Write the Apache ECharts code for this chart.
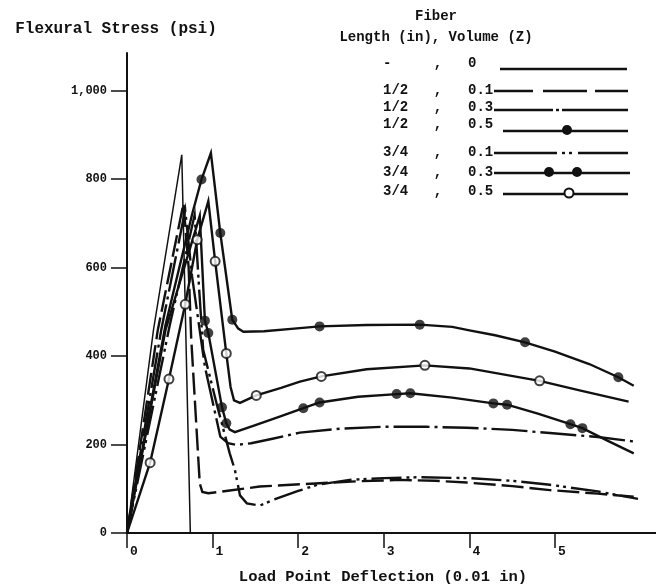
<!DOCTYPE html>
<html><head><meta charset="utf-8">
<script src="https://cdn.jsdelivr.net/npm/echarts@6/dist/echarts.min.js"></script>
<style>html,body{margin:0;padding:0;background:#fff}#c{width:656px;height:586px}</style>
</head><body><div id="c"></div>
<script>
// ---- tick values ----
const xTicks = [0, 1, 2, 3, 4, 5];
const yTicks = [0, 200, 400, 600, 800, 1000];

// ---- series: [deflection (0.01 in), flexural stress (psi)] ----
const plainCurve = [[0,0],[0.31,460],[0.64,855],[0.74,0]];
const half01 = [[0,0],[0.36,459],[0.66,745],[0.72,600],[0.75,440],[0.85,112],[0.88,93],[0.95,90],[1.2,96],[1.55,105],[2.2,112],[2.7,117],[3.19,120],[3.6,118],[3.97,114],[4.5,106],[4.94,97],[5.5,89],[5.92,82]];
const half03 = [[0,0],[0.40,459],[0.68,730],[0.76,580],[0.91,376],[1.09,218],[1.18,203],[1.28,199],[1.45,203],[1.7,213],[2.02,227],[2.5,236],[2.99,240],[3.5,240],[3.97,238],[4.5,233],[4.94,226],[5.5,217],[5.92,207]];
const half05 = [[0,0],[0.45,470],[0.76,720],[0.87,799],[0.98,859],[1.09,678],[1.23,482],[1.3,462],[1.36,455],[1.6,456],[2.02,463],[2.25,467],[2.8,470],[3.42,471],[3.8,466],[4.0,458],[4.3,447],[4.65,431],[5.0,410],[5.4,382],[5.74,352],[5.92,333]];
const quarter01 = [[0,0],[0.50,470],[0.79,719],[0.84,560],[0.89,414],[1.05,290],[1.2,180],[1.26,143],[1.32,85],[1.40,67],[1.55,62],[1.71,75],[2.0,95],[2.22,109],[2.6,120],[3.0,124],[3.4,126],[4.0,124],[4.5,118],[4.94,109],[5.5,94],[5.97,77]];
const quarter03 = [[0,0],[0.45,459],[0.85,717],[0.91,480],[0.95,452],[1.11,284],[1.16,248],[1.2,234],[1.26,228],[1.5,244],[1.8,264],[2.06,282],[2.25,295],[2.7,308],[3.15,314],[3.31,316],[3.8,306],[4.28,293],[4.44,290],[4.8,270],[5.18,246],[5.32,237],[5.6,210],[5.92,180]];
const quarter05 = [[0,0],[0.27,159],[0.49,348],[0.68,517],[0.82,663],[0.95,750],[1.03,614],[1.16,406],[1.21,330],[1.25,300],[1.32,294],[1.51,311],[1.8,328],[2.02,342],[2.27,354],[2.8,370],[3.48,379],[4.0,372],[4.82,344],[5.3,322],[5.86,297]];

// ---- plotted symbols ----
const half05Dots = [[0.87,799],[1.09,678],[1.23,482],[2.25,467],[3.42,471],[4.65,431],[5.74,352]];
const quarter03Dots = [[0.91,480],[0.95,452],[1.11,284],[1.16,248],[2.06,282],[2.25,295],[3.15,314],[3.31,316],[4.28,293],[4.44,290],[5.18,246],[5.32,237]];
const quarter05Rings = [[0.27,159],[0.49,348],[0.68,517],[0.82,663],[1.03,614],[1.16,406],[1.51,311],[2.27,354],[3.48,379],[4.82,344]];

// ---- legend text ----
const legendLengths = ['-', '1/2', '1/2', '1/2', '3/4', '3/4', '3/4'];
const legendVolumes = ['0', '0.1', '0.3', '0.5', '0.1', '0.3', '0.5'];

const INK = '#111';
const FONT = 'Liberation Mono';
const LW = 2.4;

function lineSeries(name, data, dash, width) {
  return { name, type: 'line', data, symbol: 'none', showSymbol: false, silent: true, clip: false,
    lineStyle: { color: INK, width: width, type: dash, cap: 'butt', join: 'miter' }, z: 2 };
}

// legend graphics
const g = [];
const rowTextY = [63, 90, 107, 124, 152, 172, 191];
const rowLineY = [69, 91, 110, 131, 153, 173, 194];
for (let i = 0; i < 7; i++) {
  const f = 'bold 14px "' + FONT + '"';
  g.push({ type: 'text', x: 383, y: rowTextY[i], style: { text: legendLengths[i], font: f, fill: INK, textVerticalAlign: 'middle' } });
  g.push({ type: 'text', x: 438, y: rowTextY[i], style: { text: ',', font: f, fill: INK, textAlign: 'center', textVerticalAlign: 'middle' } });
  g.push({ type: 'text', x: 468, y: rowTextY[i], style: { text: legendVolumes[i], font: f, fill: INK, textVerticalAlign: 'middle' } });
}
function seg(x1, x2, y) { g.push({ type: 'line', shape: { x1, y1: y, x2, y2: y }, style: { stroke: INK, lineWidth: LW } }); }
function dot(x, y, r, open) { g.push({ type: 'circle', shape: { cx: x, cy: y, r }, style: open ? { fill: '#fff', stroke: INK, lineWidth: 2 } : { fill: INK }, z: 10 }); }
seg(500, 627, rowLineY[0]);
seg(494, 533, rowLineY[1]); seg(543, 587, rowLineY[1]); seg(595, 628, rowLineY[1]);
seg(494, 553, rowLineY[2]); seg(556, 559, rowLineY[2]); seg(562, 628, rowLineY[2]);
seg(503, 628, rowLineY[3]); dot(567, rowLineY[3] - 1, 5);
seg(494, 557, rowLineY[4]); seg(562, 565, rowLineY[4]); seg(569, 572, rowLineY[4]); seg(578, 628, rowLineY[4]);
seg(494, 630, rowLineY[5]); dot(549, rowLineY[5] - 1, 5); dot(577, rowLineY[5] - 1, 5);
seg(503, 628, rowLineY[6]); dot(569, rowLineY[6] - 1, 4.5, true);
g.push({ type: 'text', x: 436, y: 16, style: { text: 'Fiber', font: 'bold 14px "' + FONT + '"', fill: INK, textAlign: 'center', textVerticalAlign: 'middle' } });
g.push({ type: 'text', x: 436, y: 37, style: { text: 'Length (in), Volume (Z)', font: 'bold 14px "' + FONT + '"', fill: INK, textAlign: 'center', textVerticalAlign: 'middle' } });

const chart = echarts.init(document.getElementById('c'), null, { renderer: 'canvas' });
chart.setOption({
  animation: false,
  backgroundColor: '#fff',
  textStyle: { fontFamily: FONT, fontWeight: 'bold', color: INK },
  grid: { left: 127, right: 0, top: 53, bottom: 53, containLabel: false, outerBoundsMode: 'none' },
  xAxis: {
    type: 'value', min: 0, max: 6.18,
    name: 'Load Point Deflection (0.01 in)', nameLocation: 'middle', nameGap: 36,
    nameTextStyle: { fontFamily: FONT, fontWeight: 'bold', fontSize: 15.5, color: INK, padding: [0, 17, 0, 0] },
    axisLine: { onZero: false, lineStyle: { color: INK, width: 2 } },
    axisTick: { show: true, inside: false, length: 15, customValues: xTicks, lineStyle: { color: INK, width: 1.5 } },
    axisLabel: { customValues: xTicks, align: 'left', margin: 12, padding: [0, 0, 0, 3], fontSize: 13, fontFamily: FONT, fontWeight: 'bold', color: INK },
    splitLine: { show: false }
  },
  yAxis: {
    type: 'value', min: 0, max: 1085,
    name: 'Flexural Stress (psi)', nameLocation: 'end', nameGap: 16,
    nameTextStyle: { fontFamily: FONT, fontWeight: 'bold', fontSize: 16, color: INK, align: 'center', padding: [0, 22, 0, 0] },
    axisLine: { show: true, onZero: false, lineStyle: { color: INK, width: 2 } },
    axisTick: { show: true, inside: false, length: 16, customValues: yTicks, lineStyle: { color: INK, width: 1.5 } },
    axisLabel: { customValues: yTicks, margin: 20, fontSize: 12, fontFamily: FONT, fontWeight: 'bold', color: INK,
      padding: [0, 0, 4, 0],
      formatter: v => v === 1000 ? '1,000' : String(v) },
    splitLine: { show: false }
  },
  graphic: g,
  series: [
    lineSeries('-, 0', plainCurve, 'solid', 1.5),
    lineSeries('1/2, 0.1', half01, [22, 6], LW),
    lineSeries('1/2, 0.3', half03, [36, 5, 3, 5], LW),
    lineSeries('1/2, 0.5', half05, 'solid', LW),
    lineSeries('3/4, 0.1', quarter01, [30, 5, 3, 4, 3, 5], LW),
    lineSeries('3/4, 0.3', quarter03, 'solid', LW),
    lineSeries('3/4, 0.5', quarter05, 'solid', LW),
    { name: '1/2, 0.5 marks', type: 'scatter', data: half05Dots, symbol: 'circle', symbolSize: 10, itemStyle: { color: INK }, z: 5, silent: true },
    { name: '3/4, 0.3 marks', type: 'scatter', data: quarter03Dots, symbol: 'circle', symbolSize: 10, itemStyle: { color: INK }, z: 5, silent: true },
    { name: '3/4, 0.5 marks', type: 'scatter', data: quarter05Rings, symbol: 'circle', symbolSize: 9, itemStyle: { color: '#fff', borderColor: INK, borderWidth: 2 }, z: 5, silent: true }
  ]
});
</script>
</body></html>
